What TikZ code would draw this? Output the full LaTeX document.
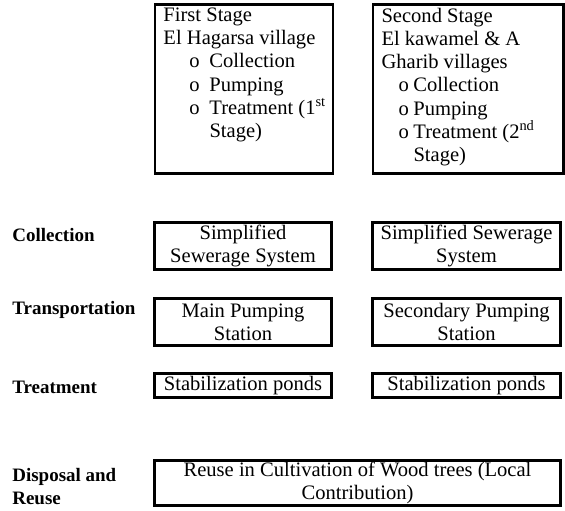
\documentclass[tikz,border=0pt]{standalone}
\usepackage{fontspec}
\setmainfont{Liberation Serif}

\newcommand{\itemrow}[3]{\mbox{\hspace*{#1}\makebox[#2][l]{o}#3}}

\tikzset{
    stagebox/.style={draw, line width=1.7pt, anchor=north west, inner xsep=0.17cm, inner ysep=0.06cm},
    stepbox/.style={draw, line width=1.7pt, align=center, inner sep=0pt},
    rowlabel/.style={anchor=base west, inner sep=0pt, font=\fontsize{10.8}{13.2}\selectfont\bfseries}
}

\begin{document}
\begin{tikzpicture}[font=\fontsize{11.7}{13.2}\selectfont]
            \useasboundingbox (0, 0) rectangle (11.3, -10.2);

            \node[stagebox] (s1) at (3.07, -0.07) {\parbox[t][3.26cm][t]{3.22cm}{\raggedright
                First Stage\\
                El Hagarsa village\\
                \itemrow{0.52cm}{0.40cm}{Collection}\\
                \itemrow{0.52cm}{0.40cm}{Pumping}\\
                \itemrow{0.52cm}{0.40cm}{Treatment (1\textsuperscript{st}}\\
                \hspace*{0.92cm}Stage)}};
            \node[stagebox] (s2) at (7.43, -0.07) {\parbox[t][3.26cm][t]{3.46cm}{\raggedright
                Second Stage\\
                El kawamel \& A\\
                Gharib villages\\
                \itemrow{0.34cm}{0.30cm}{Collection}\\
                \itemrow{0.34cm}{0.30cm}{Pumping}\\
                \itemrow{0.34cm}{0.30cm}{Treatment (2\textsuperscript{nd}}\\
                \hspace*{0.64cm}Stage)}};

            \node[rowlabel] (lc) at (0.24, -4.83) {Collection};
            \node[rowlabel] (lt) at (0.24, -6.29) {Transportation};
            \node[rowlabel] (lp) at (0.24, -7.87) {Treatment};
            \node[rowlabel, anchor=west, align=left] (ld) at (0.24, -9.73) {Disposal and\\Reuse};

            \node[stepbox, minimum width=3.54cm, minimum height=0.94cm] (c1) at (4.86, -4.92) {Simplified\\Sewerage System};
            \node[stepbox, minimum width=3.76cm, minimum height=0.94cm] (c2) at (9.33, -4.92) {Simplified Sewerage\\System};
            \node[stepbox, minimum width=3.54cm, minimum height=0.94cm] (t1) at (4.86, -6.44) {Main Pumping\\Station};
            \node[stepbox, minimum width=3.76cm, minimum height=0.94cm] (t2) at (9.33, -6.44) {Secondary Pumping\\Station};
            \node[stepbox, minimum width=3.54cm, minimum height=0.48cm] (p1) at (4.86, -7.71) {Stabilization ponds};
            \node[stepbox, minimum width=3.76cm, minimum height=0.48cm] (p2) at (9.33, -7.71) {Stabilization ponds};
            \node[stepbox, minimum width=8.12cm, minimum height=0.90cm] (r) at (7.15, -9.66) {Reuse in Cultivation of Wood trees (Local\\Contribution)};
        \end{tikzpicture}
\end{document}
